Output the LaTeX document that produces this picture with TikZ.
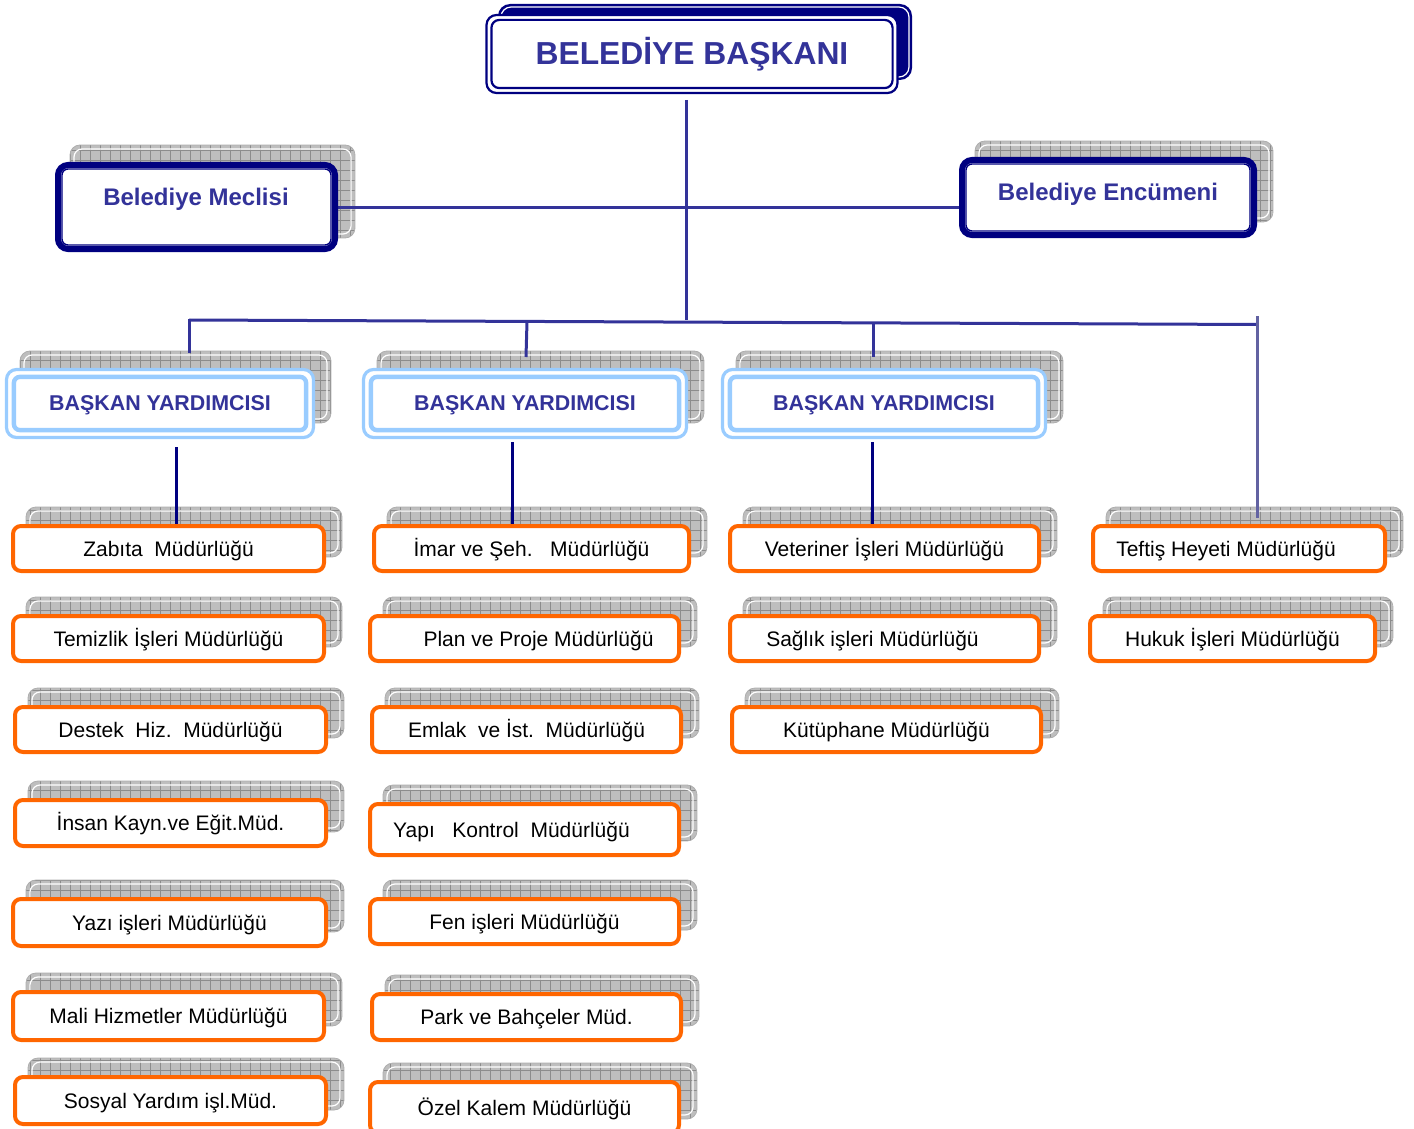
\documentclass[tikz,border=0pt]{standalone}
\usepackage{fontspec}
\setmainfont{Liberation Sans}
\usetikzlibrary{calc}
\pgfdeclarelayer{bg}
\pgfdeclarelayer{mid}
\pgfsetlayers{bg,mid,main}
\definecolor{navy}{HTML}{000080}
\definecolor{hdr}{HTML}{333399}
\definecolor{org}{HTML}{FF6600}
\definecolor{lblue}{HTML}{99CCFF}
\definecolor{shg}{HTML}{BEBEBE}
\definecolor{shl}{HTML}{8C8C8C}
\definecolor{slate}{HTML}{6262A2}
\tikzset{
  shgridline/.style={draw=shl, line width=0.4pt},
  orangebox/.style={draw=org, line width=2pt, fill=white, rounded corners=4pt, inner sep=0pt},
  orangetext/.style={font=\fontsize{10.5}{12}\selectfont, text=black, inner sep=0pt, anchor=base},
  navybox/.style={draw=navy, line width=3pt, fill=white, rounded corners=5pt, inner sep=0pt},
  bluebox/.style={draw=lblue, line width=1.6pt, fill=white, rounded corners=5pt, inner sep=0pt},
  conn/.style={draw=hdr, line width=1.5pt},
  vline/.style={draw=navy, line width=1.5pt},
}
\newcommand\shadowgrid[4]{%
  \begin{pgfonlayer}{bg}
  \begin{scope}
    \clip[rounded corners=5pt] (#1,#2) rectangle (#3,#4);
    \fill[shg] (#1,#2) rectangle (#3,#4);
    \draw[shgridline, step=5pt] (#1,#2) grid (#3,#4);
  \end{scope}
  \draw[white, line width=0.6pt, rounded corners=4pt] (#1+4,#2+4) rectangle (#3-4,#4-4);
  \draw[shl!70, line width=0.4pt, rounded corners=5pt] (#1,#2) rectangle (#3,#4);
  \end{pgfonlayer}}
\newcommand\obox[7]{%
  \shadowgrid{#2+15}{#3-17}{#4+16}{#5-16}
  \node[orangebox, minimum width={(#4-#2-4)*0.5pt}, minimum height={(#5-#3-4)*0.5pt}] (#1) at ({(#2+#4)/2},{(#3+#5)/2}) {};
  \node[orangetext] (#1t) at ({(#2+#4)/2+#6},{(#3+#5)/2+7.5}) {#7};}
\newcommand\vpbox[6]{%
  \shadowgrid{#2+15}{#3-17}{#4+16}{#5-16}
  \node[bluebox, minimum width={(#4-#2-3)*0.5pt}, minimum height={(#5-#3-3)*0.5pt}] (#1) at ({(#2+#4)/2},{(#3+#5)/2}) {};
  \draw[lblue, line width=2.2pt, rounded corners=3pt] ($(#1.south west)+(4.5pt,4.5pt)$) rectangle ($(#1.north east)-(4.5pt,4.5pt)$);
  \node[font=\bfseries\fontsize{10.7}{12}\selectfont, text=hdr, inner sep=0pt] (#1t) at ({(#2+#4)/2},{(#3+#5)/2+1.5}) {#6};}
\frenchspacing
\begin{document}
\begin{tikzpicture}[x=0.5pt,y=-0.5pt]
\useasboundingbox (0,0) rectangle (1414,1129);
% top box
\begin{pgfonlayer}{bg}
  \fill[navy, rounded corners=6pt] (498,4) rectangle (912,80);
  \draw[white, line width=0.6pt, rounded corners=5pt] (501,7) rectangle (909,77);
\end{pgfonlayer}
\node[draw=navy, line width=1.1pt, fill=white, rounded corners=5pt, inner sep=0pt,
      minimum width=205.5pt, minimum height=39pt] (bb) at (692,54) {};
\draw[navy, line width=1.1pt, rounded corners=4pt] ($(bb.south west)+(3pt,3pt)$) rectangle ($(bb.north east)-(3pt,3pt)$);
\node[font=\bfseries\fontsize{15.9}{18}\selectfont, text=hdr, inner sep=0pt] (bbt) at (692,54) {BELEDİYE BAŞKANI};
% meclis
\shadowgrid{70}{145}{355}{238}
\node[navybox, minimum width=138.5pt, minimum height=42pt] (mec) at (196.5,207) {};
\draw[navy, line width=0.7pt, rounded corners=3pt] ($(mec.south west)+(3.5pt,3.5pt)$) rectangle ($(mec.north east)-(3.5pt,3.5pt)$);
\node[font=\bfseries\fontsize{12}{14}\selectfont, text=hdr, inner sep=0pt] (mect) at (196,199) {Belediye Meclisi};
% encumen
\shadowgrid{975}{141}{1273}{222}
\node[navybox, minimum width=146pt, minimum height=37.5pt] (enc) at (1108,197.5) {};
\draw[navy, line width=0.7pt, rounded corners=3pt] ($(enc.south west)+(3.5pt,3.5pt)$) rectangle ($(enc.north east)-(3.5pt,3.5pt)$);
\node[font=\bfseries\fontsize{12}{14}\selectfont, text=hdr, inner sep=0pt] (enct) at (1108,194) {Belediye Encümeni};
% vice presidents
\vpbox{vpa}{5}{368}{315}{439}{BAŞKAN YARDIMCISI}
\vpbox{vpb}{362}{368}{688}{439}{BAŞKAN YARDIMCISI}
\vpbox{vpc}{721}{368}{1047}{439}{BAŞKAN YARDIMCISI}
% column 1
\obox{zab}{11}{524}{326}{573}{0}{Zabıta~ Müdürlüğü}
\obox{tem}{11}{614}{326}{663}{0}{Temizlik İşleri Müdürlüğü}
\obox{des}{13}{705}{328}{754}{0}{Destek~ Hiz.~ Müdürlüğü}
\obox{ins}{13}{798}{328}{848}{0}{İnsan Kayn.ve Eğit.Müd.}
\obox{yaz}{11}{897}{328}{948}{0}{Yazı işleri Müdürlüğü}
\obox{mal}{11}{990}{326}{1042}{0}{Mali Hizmetler Müdürlüğü}
\obox{sos}{13}{1075}{328}{1126}{0}{Sosyal Yardım işl.Müd.}
% column 2
\obox{imr}{372}{524}{691}{573}{0}{İmar ve Şeh.~~ Müdürlüğü}
\obox{pln}{368}{614}{681}{663}{14}{Plan ve Proje Müdürlüğü}
\obox{eml}{370}{705}{683}{754}{0}{Emlak~ ve İst.~ Müdürlüğü}
\obox{yap}{368}{802}{681}{857}{-13}{Yapı~~ Kontrol~ Müdürlüğü}
\obox{fen}{368}{897}{681}{946}{0}{Fen işleri Müdürlüğü}
\obox{prk}{370}{992}{683}{1042}{0}{Park ve Bahçeler Müd.}
\obox{ozl}{368}{1080}{681}{1135}{0}{Özel Kalem Müdürlüğü}
% column 3
\obox{vet}{728}{524}{1041}{573}{0}{Veteriner İşleri Müdürlüğü}
\obox{sag}{728}{614}{1041}{663}{-12}{Sağlık işleri Müdürlüğü}
\obox{kut}{730}{705}{1043}{754}{0}{Kütüphane Müdürlüğü}
% column 4
\obox{tef}{1091}{524}{1387}{573}{-13}{Teftiş Heyeti Müdürlüğü}
\obox{huk}{1088}{614}{1377}{663}{0}{Hukuk İşleri Müdürlüğü}
% connectors
\coordinate (t0) at (686,100);
\coordinate (t1) at (686,320);
\coordinate (bl) at (189,320);
\coordinate (br) at (1257,324.5);
\coordinate (b2) at (527,322);
\coordinate (b3) at (873,323);
\coordinate (e1) at (189,353);
\coordinate (e2) at (526,357);
\coordinate (e3) at (873,357);
\coordinate (rt) at (1257,316);
\coordinate (re) at (1257,518);
\coordinate (v1) at (176,447);
\coordinate (v2) at (512,442);
\coordinate (v3) at (872,442);
\begin{pgfonlayer}{mid}
  \draw[conn] (t0) -- (t1);
  \draw[conn] (mec.east) -- (mec.east -| enc.west);
  \draw[conn] (bl) -- (br);
  \draw[conn] ([yshift=0.75pt]bl) -- (e1);
  \draw[conn] (b2) -- (e2);
  \draw[conn] (b3) -- (e3);
  \draw[draw=slate, line width=1.5pt] (rt) -- (re);
  \draw[vline] (v1) -- (v1 |- zab.north);
  \draw[vline] (v2) -- (v2 |- imr.north);
  \draw[vline] (v3) -- (v3 |- vet.north);
\end{pgfonlayer}
\end{tikzpicture}
\end{document}
